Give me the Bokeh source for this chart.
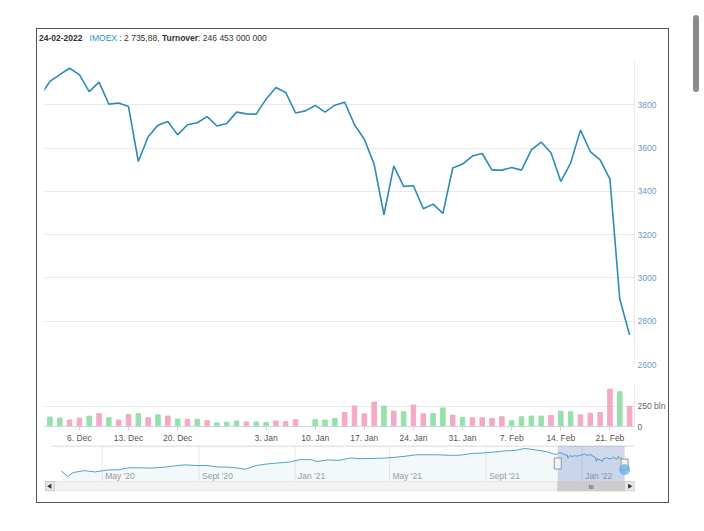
import pandas as pd
from bokeh.plotting import figure
from bokeh.models import Range1d, FixedTicker, Div
from bokeh.layouts import column, row
from bokeh.embed import file_html
from bokeh.resources import INLINE
from bokeh.core.properties import value

# ---------------- data ----------------
header_date = "24-02-2022"
header_name = "IMOEX"
header_value = "2 735,88"
header_turnover = "246 453 000 000"

close_prev = 3840  # 30 Nov 2021, only partly visible at the left edge
close = [3908, 3939, 3969, 3939, 3861, 3905, 3803, 3808, 3792, 3538,
         3652, 3706, 3723, 3661, 3708, 3717, 3745, 3702, 3714, 3766,
         3758, 3757, 3826, 3880, 3857, 3762, 3772, 3797, 3766, 3798,
         3812, 3708, 3641, 3526, 3292, 3518, 3423, 3426, 3320, 3341,
         3298, 3508, 3526, 3563, 3575, 3498, 3498, 3510, 3498, 3592,
         3628, 3578, 3446, 3531, 3683, 3584, 3545, 3457, 2903, 2736]
volume = [115, 103, 79, 103, 127, 159, 107, 79, 147, 159,
          107, 143, 127, 91, 87, 87, 71, 44, 52, 67,
          56, 56, 48, 67, 60, 83, 0, 83, 79, 99,
          171, 250, 155, 298, 250, 187, 179, 262, 155, 159,
          226, 139, 111, 107, 107, 99, 119, 71, 119, 127,
          127, 135, 187, 179, 143, 163, 171, 456, 425, 246]
vol_dir = list("ggppgpgppg" "pgpgpgpggg" "pggppppggg" "ppppgpgppg"
               "gpgppppggg" "gpggppppgp")
holidays = ["2021-12-31", "2022-02-23"]

price_ticks = [2600, 2800, 3000, 3200, 3400, 3600, 3800]
price_grid = [2600, 2800, 3000, 3200, 3400, 3600, 3800, 4000]
vol_ticks = [0, 250]
vol_tick_labels = ["0", "250 bln"]
vol_grid = [0, 250, 500]
date_tick_idx = [3, 8, 13, 22, 27, 32, 37, 42, 47, 52, 57]
date_tick_labels = ["6. Dec", "13. Dec", "20. Dec", "3. Jan", "10. Jan", "17. Jan",
                    "24. Jan", "31. Jan", "7. Feb", "14. Feb", "21. Feb"]

hist_dates = ["2020-03-10", "2020-03-18", "2020-03-25", "2020-04-08", "2020-04-22",
              "2020-05-08", "2020-05-22", "2020-06-05", "2020-06-19", "2020-07-03",
              "2020-07-17", "2020-07-31", "2020-08-14", "2020-08-28", "2020-09-11",
              "2020-09-25", "2020-10-09", "2020-10-23", "2020-10-30", "2020-11-13",
              "2020-11-27", "2020-12-11", "2020-12-25", "2021-01-08", "2021-01-22",
              "2021-01-29", "2021-02-12", "2021-02-26", "2021-03-12", "2021-03-26",
              "2021-04-09", "2021-04-23", "2021-05-07", "2021-05-21", "2021-06-04",
              "2021-06-18", "2021-07-02", "2021-07-16", "2021-07-30", "2021-08-13",
              "2021-08-27", "2021-09-10", "2021-09-24", "2021-10-08", "2021-10-20",
              "2021-11-03", "2021-11-17", "2021-11-26", "2021-11-30"]
hist_vals = [2540, 2113, 2420, 2570, 2470, 2620, 2640, 2800, 2790, 2770,
             2830, 2930, 3020, 2970, 2970, 2850, 2840, 2750, 2680, 2970,
             3090, 3170, 3240, 3430, 3420, 3280, 3400, 3370, 3550, 3500,
             3520, 3540, 3600, 3690, 3800, 3800, 3800, 3760, 3770, 3900,
             3940, 4010, 4100, 4140, 4290, 4180, 4040, 3860, 3840]
nav_tick_dates = ["2020-05-01", "2020-09-01", "2021-01-01", "2021-05-01", "2021-09-01", "2022-01-01"]
nav_tick_labels = ["May '20", "Sept '20", "Jan '21", "May '21", "Sept '21", "Jan '22"]

# ---------------- styles ----------------
FONT = "Liberation Sans"
LINE_C = "#2b8cb8"
GRID_C = "#e9e9e9"
PINK = "#f5a9c3"
GREEN = "#98e0aa"
W = 631

days = pd.bdate_range("2021-12-01", "2022-02-24")
days = days[~days.isin(pd.to_datetime(holidays))]
idx = list(range(len(close)))
xr = Range1d(-0.55, 59.5)

# ---------------- header ----------------
header_html = (f'<span style="font-weight:bold">{header_date}</span>&nbsp;&nbsp; '
               f'<span style="color:#2e90c8">{header_name}</span> : {header_value}, '
               f'<span style="font-weight:bold">Turnover</span>: {header_turnover}')
head = Div(text=header_html, width=W, height=20, margin=(0, 0, 0, 0),
           styles={"font-family": FONT, "font-size": "8.5px", "color": "#333333",
                   "line-height": "18px", "padding-left": "2px", "white-space": "nowrap"})

# ---------------- price panel ----------------
p1 = figure(width=W, height=326, x_range=xr, y_range=Range1d(2600, 4000),
            x_axis_location=None, y_axis_location="right",
            output_backend="svg", toolbar_location=None,
            min_border_left=7, min_border_right=34, min_border_top=12, min_border_bottom=11)
p1.outline_line_color = None
p1.xgrid.visible = False
p1.ygrid.ticker = FixedTicker(ticks=price_grid)
p1.ygrid.grid_line_color = GRID_C
ax = p1.yaxis[0]
ax.ticker = FixedTicker(ticks=price_ticks)
ax.major_tick_line_color = None
ax.minor_tick_line_color = None
ax.major_tick_out = 0
ax.major_label_standoff = 3
ax.axis_line_color = GRID_C
ax.major_label_text_font = FONT
ax.major_label_text_font_size = "8.5px"
ax.major_label_text_color = "#6e9cc4"
p1.line([-1] + idx, [close_prev] + close, line_color=LINE_C, line_width=1.6)

# ---------------- volume panel ----------------
p2 = figure(width=W, height=70, x_range=xr, y_range=Range1d(0, 500),
            y_axis_location="right", output_backend="svg", toolbar_location=None,
            min_border_left=7, min_border_right=34, min_border_top=10, min_border_bottom=18)
p2.outline_line_color = None
p2.xgrid.visible = False
p2.ygrid.ticker = FixedTicker(ticks=vol_grid)
p2.ygrid.grid_line_color = GRID_C
vax = p2.yaxis[0]
vax.ticker = FixedTicker(ticks=vol_ticks)
vax.major_label_overrides = dict(zip(vol_ticks, vol_tick_labels))
vax.major_tick_line_color = None
vax.minor_tick_line_color = None
vax.major_tick_out = 0
vax.major_label_standoff = 3
vax.axis_line_color = GRID_C
vax.major_label_text_font = FONT
vax.major_label_text_font_size = "8.5px"
vax.major_label_text_color = "#666666"
xax = p2.xaxis[0]
xax.ticker = FixedTicker(ticks=date_tick_idx)
xax.major_label_overrides = dict(zip(date_tick_idx, date_tick_labels))
xax.major_tick_out = 4
xax.major_tick_in = 0
xax.minor_tick_line_color = None
xax.major_tick_line_color = "#ccd6eb"
xax.axis_line_color = "#ccd6eb"
xax.major_label_standoff = 2
xax.major_label_text_font = FONT
xax.major_label_text_font_size = "8.5px"
xax.major_label_text_color = "#555555"
bar_colors = [GREEN if d == "g" else PINK for d in vol_dir]
p2.vbar(x=idx, top=volume, width=0.46, color=bar_colors)

# ---------------- navigator ----------------
nav_dates = list(pd.to_datetime(hist_dates)) + list(days)
nav_vals = hist_vals + close
d0, d1 = pd.Timestamp(hist_dates[0]), days[-1]
px_per_day = 570 / (d1 - d0).days
nav_x = Range1d(d0 - pd.Timedelta(days=17 / px_per_day), d1 + pd.Timedelta(days=10 / px_per_day))
nav_y = Range1d(947, 4523)
p3 = figure(width=W, height=57, x_range=nav_x, y_range=nav_y,
            x_axis_location=None, y_axis_location=None,
            output_backend="svg", toolbar_location=None,
            min_border_left=0, min_border_right=34, min_border_top=0, min_border_bottom=11)
p3.outline_line_color = None
p3.grid.visible = False
p3.extra_y_ranges = {"ui": Range1d(0, 46)}
p3.extra_x_ranges = {"uix": Range1d(0, 597)}
floor = nav_y.start + 10 * (nav_y.end - nav_y.start) / 46

tick_dt = pd.to_datetime(nav_tick_dates)
p3.segment(x0=tick_dt, x1=tick_dt, y0=[10] * len(tick_dt), y1=[46] * len(tick_dt),
           y_range_name="ui", line_color=GRID_C, line_width=1)
p3.varea(x=nav_dates, y1=[floor] * len(nav_vals), y2=nav_vals, fill_color=LINE_C, fill_alpha=0.06)
p3.line(nav_dates, nav_vals, line_color="#4fa3cc", line_width=1)
p3.text(x=tick_dt, y=[16] * len(tick_dt), text=nav_tick_labels, y_range_name="ui",
        x_offset=3, text_align="left", text_baseline="middle", text_font=value(FONT),
        text_font_size="8.5px", text_color="#999999")
p3.segment(x0=[7], x1=[598], y0=[45.5], y1=[45.5], x_range_name="uix", y_range_name="ui",
           line_color="#cccccc", line_width=1)
sel0, sel1 = days[0], days[-1]
p3.quad(left=[sel0], right=[sel1], bottom=[10], top=[46], y_range_name="ui",
        fill_color="rgb(102,133,194)", fill_alpha=0.3, line_color=None)
# scrollbar
p3.quad(left=[1], right=[597], bottom=[0.5], top=[10], x_range_name="uix", y_range_name="ui",
        fill_color="#f2f2f2", line_color="#e6e6e6")
p3.quad(left=[sel0], right=[sel1], bottom=[0.5], top=[10], y_range_name="ui",
        fill_color="#cccccc", line_color="#cccccc")
p3.quad(left=[1, 587], right=[10, 597], bottom=[0.5, 0.5], top=[10, 10],
        x_range_name="uix", y_range_name="ui", fill_color="#e6e6e6", line_color="#cccccc")
p3.scatter(x=[5.5, 592], y=[5.2, 5.2], marker="triangle", angle=[1.5708, -1.5708],
           size=5, x_range_name="uix", y_range_name="ui", fill_color="#333333", line_color=None)
p3.text(x=[sel0 + (sel1 - sel0) / 2], y=[5], text=["III"], y_range_name="ui",
        text_align="center", text_baseline="middle", text_font=value(FONT),
        text_font_size="6px", text_color="#333333")
# handles
p3.rect(x=[sel0, sel1], y=[28, 27], width=7, height=11, width_units="screen", height_units="screen",
        y_range_name="ui", fill_color="#f2f2f2", line_color="#999999")
p3.scatter(x=[sel1], y=[22], size=11, y_range_name="ui", fill_color="#6aaee0",
           fill_alpha=0.75, line_color=None)

chart = column(head, p1, p2, p3, margin=(28, 0, 0, 36),
               styles={"border": "1px solid #555555"})
page_bar = Div(text="", width=6, height=77, margin=(15, 0, 0, 24),
               styles={"background-color": "#8c8c8c", "border-radius": "3px"})
layout = row(chart, page_bar)

open("out.html", "w").write(file_html(layout, INLINE))
